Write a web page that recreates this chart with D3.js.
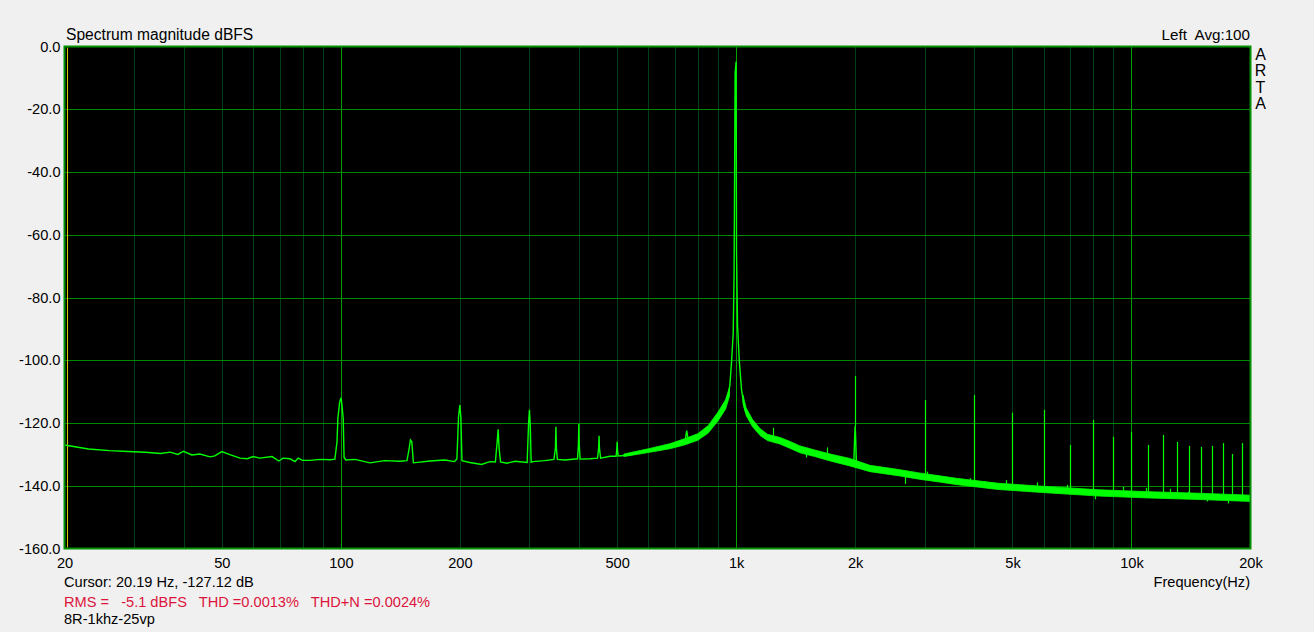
<!DOCTYPE html>
<html>
<head>
<meta charset="utf-8">
<script src="https://cdn.jsdelivr.net/npm/d3@7"></script>
<style>
  html, body { margin: 0; padding: 0; background: #f0f0f0; }
  svg { display: block; font-family: "Liberation Sans", Arial, sans-serif; }
  text { white-space: pre; }
</style>
</head>
<body>
<svg id="chart" width="1314" height="632"></svg>
<script>
// ---------------- data ----------------
const xTickValues = [20, 50, 100, 200, 500, 1000, 2000, 5000, 10000, 20000];
const xTickLabels = ["20", "50", "100", "200", "500", "1k", "2k", "5k", "10k", "20k"];
const yTickValues = [0, -20, -40, -60, -80, -100, -120, -140, -160];

// main spectrum trace (Hz, dBFS)
const traceFreq = [
  20, 23, 26, 29, 32, 35, 37, 38.7, 40, 42, 44, 46.7, 48, 50, 52.4, 55.6, 58, 60, 62.4, 67,
  69.7, 71.4, 74.4, 76.6, 78, 80, 83.5, 88.6, 93.9, 96.6, 97.8, 98.3, 99.3, 100, 100.4, 101.4, 101.9, 103,
  108.6, 118.5, 129, 141, 147, 148.5, 150, 151.2, 152.6, 168, 183, 194, 196.6, 198.5, 200, 201.2, 202.5,
  212, 227, 238, 246, 248.6, 250, 251.4, 253.5, 263, 276, 296, 298.5, 300, 301.5, 303, 306,
  328, 346, 349, 350, 351, 353, 369, 397, 399, 400, 401, 403, 427, 446, 449, 450, 451, 454, 480, 497, 499, 500, 501, 503,
  539, 571, 605, 641, 680, 721, 744, 747, 750, 752, 756, 764, 810, 834, 858, 884, 910, 937, 955, 964, 974, 983, 988, 994, 1000,
  1002, 1008, 1018, 1032, 1042, 1052, 1083, 1115, 1148, 1189, 1217, 1290, 1367, 1449, 1581, 1726, 1939,
  1985, 1995, 2000, 2005, 2015, 2178, 2595, 2914, 3275, 3575, 4645, 6216, 8316, 11126, 14886, 20000
];
const traceDb = [
  -127.0, -128.3, -128.8, -129.1, -129.3, -129.7, -129.3, -130.0, -129.0, -130.2, -129.9, -130.8, -130.5, -129.1, -130.1, -131.2, -131.4, -130.7, -131.2, -130.7,
  -132.1, -131.2, -131.4, -132.3, -131.2, -131.9, -131.9, -131.6, -131.7, -131.5, -126.0, -118.5, -113.5, -112.0, -113.0, -118.5, -131.0, -131.8,
  -131.6, -132.7, -132.0, -132.2, -132.0, -129.0, -125.4, -126.0, -132.7, -132.1, -131.8, -132.3, -131.5, -118.0, -114.3, -118.0, -132.0,
  -132.6, -133.2, -132.3, -132.4, -126.0, -122.0, -128.0, -132.4, -132.8, -132.2, -132.6, -120.0, -115.8, -121.0, -132.5, -132.3,
  -132.0, -131.6, -128.0, -121.2, -128.0, -131.6, -131.8, -131.4, -127.0, -120.3, -127.0, -131.5, -131.4, -131.2, -128.0, -124.1, -128.0, -131.2, -130.6, -130.6, -128.5, -126.0, -128.5, -130.5,
  -130.2, -129.3, -128.6, -128.1, -127.4, -126.5, -125.6, -123.5, -122.4, -123.5, -125.4, -125.2, -124.4, -123.3, -121.5, -119.3, -117.0, -114.3, -110.5, -108.0, -100.0, -91.3, -72.2, -8.4, -4.8,
  -64.9, -88.8, -99.9, -109.5, -112.7, -115.8, -118.8, -121.0, -123.0, -124.5, -124.8, -125.7, -127.0, -128.4, -129.6, -131.0, -132.5,
  -132.3, -124.0, -121.0, -124.0, -132.8, -134.5, -135.9, -136.9, -137.9, -138.6, -140.2, -141.3, -142.3, -142.9, -143.4, -144.0
];

// thickness of the noise floor (lower and upper envelopes), below and above the 1 kHz tone
const bandFreqLow = [520, 600, 680, 740, 800, 850, 900, 940, 962];
const bandLowLow  = [-130.7, -129.4, -128.2, -127.0, -125.5, -123.2, -119.3, -115.6, -111.5];
const bandHighLow = [-129.9, -128.2, -126.6, -125.0, -123.4, -120.8, -116.5, -112.6, -108.8];

const bandFreqHigh = [1040, 1060, 1100, 1150, 1200, 1290, 1370, 1450, 1580, 1730, 1940, 2180, 2600, 2900, 3300, 3600, 4600, 6200, 8300, 11100, 14900, 20000];
const bandLowHigh  = [-113.6, -117.6, -121.2, -124.0, -125.6, -126.7, -128.1, -129.5, -130.7, -132.1, -133.7, -135.5, -136.9, -137.9, -138.9, -139.6, -141.2, -142.3, -143.3, -143.9, -144.4, -145.0];
const bandHighHigh = [-111.0, -115.2, -118.9, -121.8, -123.6, -124.6, -125.9, -127.3, -128.6, -129.9, -131.3, -133.5, -134.9, -135.9, -136.9, -137.6, -139.2, -140.3, -141.3, -141.9, -142.4, -143.0];

// small noise excursions visible in the floor (Hz, dBFS)
const noiseFreq = [773, 1240, 1500, 1700, 2672, 3036, 3900, 4232, 4810, 5762, 6862, 8078, 9500, 10872, 12500, 13880, 15500, 17520];
const noiseDb   = [-125.2, -121.5, -131.0, -127.8, -139.4, -135.5, -137.6, -138.5, -138.2, -138.9, -139.7, -144.3, -140.4, -140.7, -141.0, -141.9, -145.0, -145.6];

// harmonic / spur lines (Hz, top dBFS, base dBFS)
const spurFreq = [2000, 3000, 4000, 5000, 6000, 7000, 8000, 9000, 10000, 11000, 12000, 13000, 14000, 15000, 16000, 17000, 18000, 19000];
const spurTop  = [-105.0, -112.7, -111.1, -116.7, -115.8, -127.0, -119.0, -124.4, -122.8, -127.0, -123.8, -126.0, -127.3, -127.6, -127.3, -126.4, -129.9, -126.4];
const spurBase = [-121.0, -137.0, -139.5, -140.5, -141.2, -141.8, -142.2, -142.5, -142.8, -143.0, -143.1, -143.2, -143.4, -143.5, -143.6, -143.7, -143.8, -143.9];

const cursorFreq = 20.19;

// ---------------- drawing ----------------
(function draw() {
const svg = d3.select("#chart");
const pL = 64.5, pR = 1250.5, pT = 46.5, pB = 548.5;

const x = d3.scaleLog().domain([20, 20000]).range([pL, pR]);
const y = d3.scaleLinear().domain([-160, 0]).range([pB, pT]);

svg.append("rect")
  .attr("x", pL).attr("y", pT)
  .attr("width", pR - pL).attr("height", pB - pT)
  .attr("fill", "#000");

const gridFreqs = [];
[10, 100, 1000, 10000].forEach(dec => {
  for (let k = 1; k <= 9; k++) {
    const f = dec * k;
    if (f > 20 && f < 20000) gridFreqs.push(f);
  }
});
svg.append("g").selectAll("line")
  .data(gridFreqs)
  .join("line")
  .attr("x1", d => Math.round(x(d)) + 0.5).attr("x2", d => Math.round(x(d)) + 0.5)
  .attr("y1", pT).attr("y2", pB)
  .attr("stroke", d => ([100, 1000, 10000].includes(d) ? "#00a000" : "#003e18"))
  .attr("stroke-width", 1);

svg.append("g").selectAll("line")
  .data(yTickValues.filter(v => v > -160 && v < 0))
  .join("line")
  .attr("x1", pL).attr("x2", pR)
  .attr("y1", d => Math.round(y(d)) + 0.5).attr("y2", d => Math.round(y(d)) + 0.5)
  .attr("stroke", "#008800").attr("stroke-width", 1);

svg.append("line")
  .attr("x1", Math.round(x(cursorFreq)) + 1.5).attr("x2", Math.round(x(cursorFreq)) + 1.5)
  .attr("y1", pT + 1).attr("y2", pB - 1)
  .attr("stroke", "#d8c800").attr("stroke-width", 1);

const green = "#00ff00";

const bandLowData = bandFreqLow.map((f, i) => ({ f, lo: bandLowLow[i], hi: bandHighLow[i] }));
const bandHighData = bandFreqHigh.map((f, i) => ({ f, lo: bandLowHigh[i], hi: bandHighHigh[i] }));
const area = d3.area().x(d => x(d.f)).y0(d => y(d.lo)).y1(d => y(d.hi));
[bandLowData, bandHighData].forEach(data => {
  svg.append("path").datum(data).attr("d", area).attr("fill", green).attr("stroke", green).attr("stroke-width", 0.8);
});

// band centre for a frequency (interpolated on log frequency) to anchor excursions
const centreAt = f => {
  const d = bandHighData;
  for (let i = 0; i < d.length - 1; i++) {
    if (f >= d[i].f && f <= d[i + 1].f) {
      const t = (Math.log(f) - Math.log(d[i].f)) / (Math.log(d[i + 1].f) - Math.log(d[i].f));
      return ((d[i].lo + d[i].hi) / 2) * (1 - t) + ((d[i + 1].lo + d[i + 1].hi) / 2) * t;
    }
  }
  const dl = bandLowData;
  for (let i = 0; i < dl.length - 1; i++) {
    if (f >= dl[i].f && f <= dl[i + 1].f) {
      const t = (Math.log(f) - Math.log(dl[i].f)) / (Math.log(dl[i + 1].f) - Math.log(dl[i].f));
      return ((dl[i].lo + dl[i].hi) / 2) * (1 - t) + ((dl[i + 1].lo + dl[i + 1].hi) / 2) * t;
    }
  }
  return -130;
};

svg.append("g").selectAll("line")
  .data(noiseFreq.map((f, i) => ({ f, v: noiseDb[i] })))
  .join("line")
  .attr("x1", d => Math.round(x(d.f)) + 0.5).attr("x2", d => Math.round(x(d.f)) + 0.5)
  .attr("y1", d => y(d.v)).attr("y2", d => y(centreAt(d.f)))
  .attr("stroke", green).attr("stroke-width", 1.2);

svg.append("g").selectAll("line")
  .data(spurFreq.map((f, i) => ({ f, t: spurTop[i], b: spurBase[i] })))
  .join("line")
  .attr("x1", d => Math.round(x(d.f)) + 0.5).attr("x2", d => Math.round(x(d.f)) + 0.5)
  .attr("y1", d => y(d.t)).attr("y2", d => y(d.b))
  .attr("stroke", green).attr("stroke-width", 1.2);

const traceData = traceFreq.map((f, i) => ({ f, v: traceDb[i] }));
svg.append("path")
  .datum(traceData)
  .attr("d", d3.line().x(d => x(d.f)).y(d => y(d.v)))
  .attr("fill", "none")
  .attr("stroke", green)
  .attr("stroke-width", 1.4)
  .attr("stroke-linejoin", "miter");

svg.append("rect")
  .attr("x", pL).attr("y", pT)
  .attr("width", pR - pL).attr("height", pB - pT)
  .attr("fill", "none").attr("stroke", "#009000").attr("stroke-width", 2);

const yAxis = d3.axisLeft(y).tickValues(yTickValues).tickSize(0).tickPadding(4)
  .tickFormat(d => d.toFixed(1));
const gy = svg.append("g").attr("transform", `translate(${pL},0)`).call(yAxis);
gy.select(".domain").remove();
gy.selectAll("text").attr("font-size", "14.6px").attr("fill", "#000")
  .attr("font-family", "'Liberation Sans', Arial, sans-serif");

const xAxis = d3.axisBottom(x).tickValues(xTickValues).tickSize(0).tickPadding(9)
  .tickFormat((d, i) => xTickLabels[i]);
const gx = svg.append("g").attr("transform", `translate(0,${pB})`).call(xAxis);
gx.select(".domain").remove();
gx.selectAll("text").attr("font-size", "14.6px").attr("fill", "#000")
  .attr("font-family", "'Liberation Sans', Arial, sans-serif");

const txt = (s, xx, yy, opts = {}) => svg.append("text")
  .attr("x", xx).attr("y", yy)
  .attr("font-size", opts.size || "14.6px")
  .attr("fill", opts.color || "#000")
  .attr("text-anchor", opts.anchor || "start")
  .text(s);

txt("Spectrum magnitude dBFS", 66, 40, { size: "15.6px" });
txt("Left  Avg:100", 1250, 40, { size: "15.2px", anchor: "end" });
["A", "R", "T", "A"].forEach((c, i) => txt(c, 1260.5, 60 + i * 16.4, { size: "16px", anchor: "middle" }));
txt("Frequency(Hz)", 1250, 586.5, { anchor: "end" });
txt("Cursor: 20.19 Hz, -127.12 dB", 64, 586.5);
txt("RMS =   -5.1 dBFS   THD =0.0013%   THD+N =0.0024%", 64, 606.5, { color: "#dc143c" });
txt("8R-1khz-25vp", 64, 624);
})();
</script>
</body>
</html>
